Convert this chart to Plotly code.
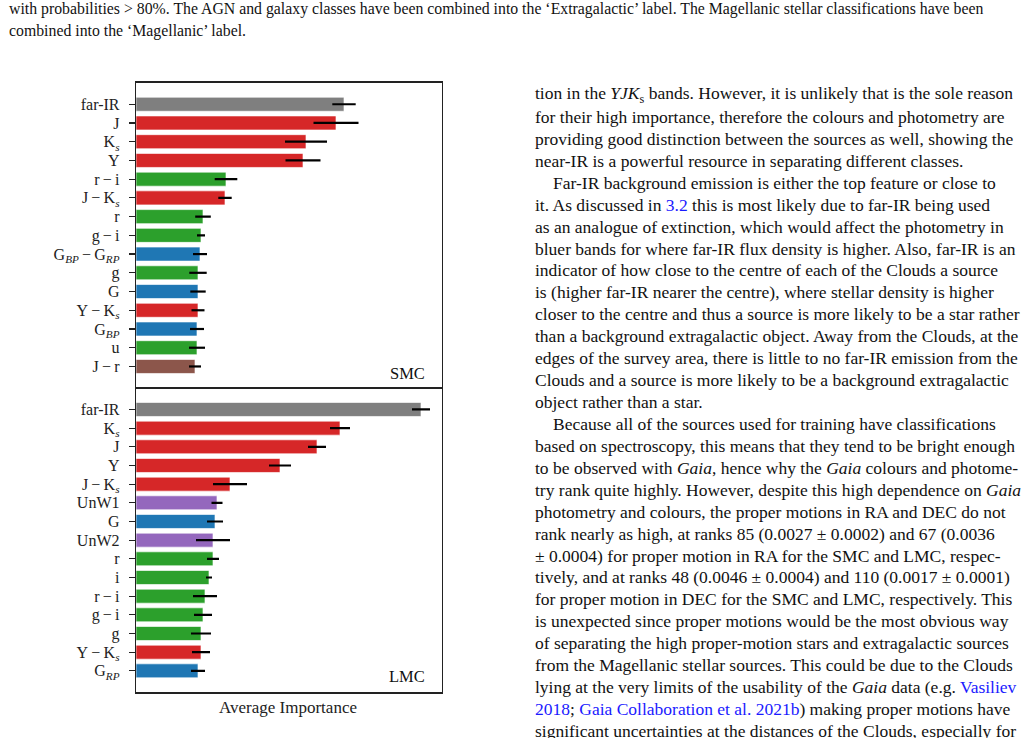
import plotly.graph_objects as go

# ---------------- data ----------------
M = "\u2009\u2212\u2009"  # minus with thin spaces
KS = "K<sub><i>s</i></sub>"
smc_features = ["far-IR", "J", KS, "Y", "r" + M + "i", "J" + M + KS, "r", "g" + M + "i",
                "G<sub><i>BP</i></sub>" + M + "G<sub><i>RP</i></sub>", "g", "G", "Y" + M + KS,
                "G<sub><i>BP</i></sub>", "u", "J" + M + "r"]
smc_importance = [0.0208, 0.0200, 0.0170, 0.0167, 0.0090, 0.0089, 0.0067, 0.0065,
                  0.0064, 0.0062, 0.0062, 0.0062, 0.0061, 0.0061, 0.0059]
smc_error = [0.00117, 0.00225, 0.0021, 0.00175, 0.00113, 0.00067, 0.00078, 0.0004,
             0.0007, 0.00087, 0.00077, 0.00065, 0.0007, 0.0008, 0.0006]
smc_group = ["far-IR", "VMC", "VMC", "VMC", "SMASH", "VMC", "SMASH", "SMASH",
             "Gaia", "SMASH", "Gaia", "VMC", "Gaia", "SMASH", "cross"]

lmc_features = ["far-IR", KS, "J", "Y", "J" + M + KS, "UnW1", "G", "UnW2",
                "r", "i", "r" + M + "i", "g" + M + "i", "g", "Y" + M + KS, "G<sub><i>RP</i></sub>"]
lmc_importance = [0.0285, 0.0204, 0.0181, 0.0144, 0.0094, 0.0081, 0.0079, 0.0077,
                  0.0077, 0.0073, 0.0069, 0.0067, 0.0065, 0.0065, 0.0062]
lmc_error = [0.0009, 0.0010, 0.0009, 0.0011, 0.0017, 0.00055, 0.0008, 0.0017,
             0.0006, 0.0003, 0.0012, 0.0009, 0.0010, 0.0009, 0.0007]
lmc_group = ["far-IR", "VMC", "VMC", "VMC", "VMC", "unWISE", "Gaia", "unWISE",
             "SMASH", "SMASH", "SMASH", "SMASH", "SMASH", "VMC", "Gaia"]

group_colors = {"far-IR": "#7f7f7f", "VMC": "#d62728", "SMASH": "#2ca02c",
                "Gaia": "#1f77b4", "unWISE": "#9467bd", "cross": "#8c564b"}

panel_labels = ["SMC", "LMC"]
x_title = "Average Importance"

caption_lines = [
    "with probabilities > 80%. The AGN and galaxy classes have been combined into the \u2018Extragalactic\u2019 label. The Magellanic stellar classifications have been",
    "combined into the \u2018Magellanic\u2019 label.",
]

LINK = "<span style='color:#1a1aff'>{}</span>"
body_lines = [
    (0, "tion in the <i>YJK</i><sub>s</sub> bands. However, it is unlikely that is the sole reason"),
    (0, "for their high importance, therefore the colours and photometry are"),
    (0, "providing good distinction between the sources as well, showing the"),
    (0, "near-IR is a powerful resource in separating different classes."),
    (1, "Far-IR background emission is either the top feature or close to"),
    (0, "it. As discussed in " + LINK.format("3.2") + " this is most likely due to far-IR being used"),
    (0, "as an analogue of extinction, which would affect the photometry in"),
    (0, "bluer bands for where far-IR flux density is higher. Also, far-IR is an"),
    (0, "indicator of how close to the centre of each of the Clouds a source"),
    (0, "is (higher far-IR nearer the centre), where stellar density is higher"),
    (0, "closer to the centre and thus a source is more likely to be a star rather"),
    (0, "than a background extragalactic object. Away from the Clouds, at the"),
    (0, "edges of the survey area, there is little to no far-IR emission from the"),
    (0, "Clouds and a source is more likely to be a background extragalactic"),
    (0, "object rather than a star."),
    (1, "Because all of the sources used for training have classifications"),
    (0, "based on spectroscopy, this means that they tend to be bright enough"),
    (0, "to be observed with <i>Gaia</i>, hence why the <i>Gaia</i> colours and photome-"),
    (0, "try rank quite highly. However, despite this high dependence on <i>Gaia</i>"),
    (0, "photometry and colours, the proper motions in RA and DEC do not"),
    (0, "rank nearly as high, at ranks 85 (0.0027 \u00b1 0.0002) and 67 (0.0036"),
    (0, "\u00b1 0.0004) for proper motion in RA for the SMC and LMC, respec-"),
    (0, "tively, and at ranks 48 (0.0046 \u00b1 0.0004) and 110 (0.0017 \u00b1 0.0001)"),
    (0, "for proper motion in DEC for the SMC and LMC, respectively. This"),
    (0, "is unexpected since proper motions would be the most obvious way"),
    (0, "of separating the high proper-motion stars and extragalactic sources"),
    (0, "from the Magellanic stellar sources. This could be due to the Clouds"),
    (0, "lying at the very limits of the usability of the <i>Gaia</i> data (e.g. " + LINK.format("Vasiliev")),
    (0, LINK.format("2018") + "; " + LINK.format("Gaia Collaboration et al. 2021b") + ") making proper motions have"),
    (0, "significant uncertainties at the distances of the Clouds, especially for"),
]

# ---------------- layout constants ----------------
W, H = 1025, 738
FONT = "Liberation Serif, Times New Roman, serif"
px = lambda x: x / W
py = lambda y: 1 - y / H

fig = go.Figure()

panels = [
    (smc_features, smc_importance, smc_error, smc_group, "x", "y"),
    (lmc_features, lmc_importance, lmc_error, lmc_group, "x2", "y2"),
]
for feats, vals, errs, groups, xa, ya in panels:
    fig.add_trace(go.Bar(
        x=vals, y=feats, orientation="h", xaxis=xa, yaxis=ya,
        width=0.75,
        marker=dict(color=[group_colors[g] for g in groups],
                    line=dict(color="rgba(255,255,255,0.8)", width=0.8)),
        error_x=dict(type="data", array=errs, color="black", thickness=2.2, width=0),
        showlegend=False, hoverinfo="skip",
    ))

x_dom = [px(136), px(442)]
y_dom_smc = [py(388), py(82.7)]
y_dom_lmc = [py(692.3), py(388)]

xcommon = dict(range=[0, 0.0306], showticklabels=False, ticks="", showgrid=False, zeroline=False,
               showline=True, linecolor="#222", linewidth=1.3, mirror=True, fixedrange=True)
ycommon = dict(type="category", range=[15.15, -1.15], showgrid=False, zeroline=False,
               showline=True, linecolor="#222", linewidth=1.3, mirror=True,
               ticks="outside", ticklen=6, tickwidth=1.2, tickcolor="#222",
               ticklabelstandoff=6, tickmode="array",
               tickfont=dict(family=FONT, size=16, color="#222"))

fig.update_layout(
    width=W, height=H, margin=dict(l=0, r=0, t=0, b=0),
    paper_bgcolor="white", plot_bgcolor="white",
    font=dict(family=FONT, size=15, color="#222"),
    bargap=0,
    xaxis=dict(domain=x_dom, anchor="y", **xcommon),
    yaxis=dict(domain=y_dom_smc, anchor="x", categoryorder="array", categoryarray=smc_features,
               tickvals=smc_features, ticktext=smc_features, **ycommon),
    xaxis2=dict(domain=x_dom, anchor="y2", **xcommon),
    yaxis2=dict(domain=y_dom_lmc, anchor="x2", categoryorder="array", categoryarray=lmc_features,
                tickvals=lmc_features, ticktext=lmc_features, **ycommon),
)

ann = []
# panel labels
for lbl, yc in zip(panel_labels, [373, 676]):
    ann.append(dict(text=lbl, x=px(427), y=py(yc), xref="paper", yref="paper",
                    xanchor="right", yanchor="middle", showarrow=False,
                    font=dict(family=FONT, size=16.5, color="#111")))
# x title
ann.append(dict(text=x_title, x=px(288), y=py(707), xref="paper", yref="paper",
                xanchor="center", yanchor="middle", showarrow=False,
                font=dict(family=FONT, size=17, color="#222")))
# caption lines
for i, line in enumerate(caption_lines):
    ann.append(dict(text=line, x=px(7), y=py(9 + 22 * i), xref="paper", yref="paper",
                    xanchor="left", yanchor="middle", showarrow=False,
                    font=dict(family=FONT, size=15.8, color="#111")))
# body text
for i, (indent, line) in enumerate(body_lines):
    ann.append(dict(text=line, x=px(532.5 + 18 * indent), y=py(95 + 21.93 * i), xref="paper", yref="paper",
                    xanchor="left", yanchor="middle", showarrow=False,
                    font=dict(family=FONT, size=17.5, color="#111")))

fig.update_layout(annotations=ann)
fig.write_html("out.html", config={"displayModeBar": False, "staticPlot": True},
               post_script="document.body.style.margin='0';document.body.style.padding='0';document.body.style.overflow='hidden';")
